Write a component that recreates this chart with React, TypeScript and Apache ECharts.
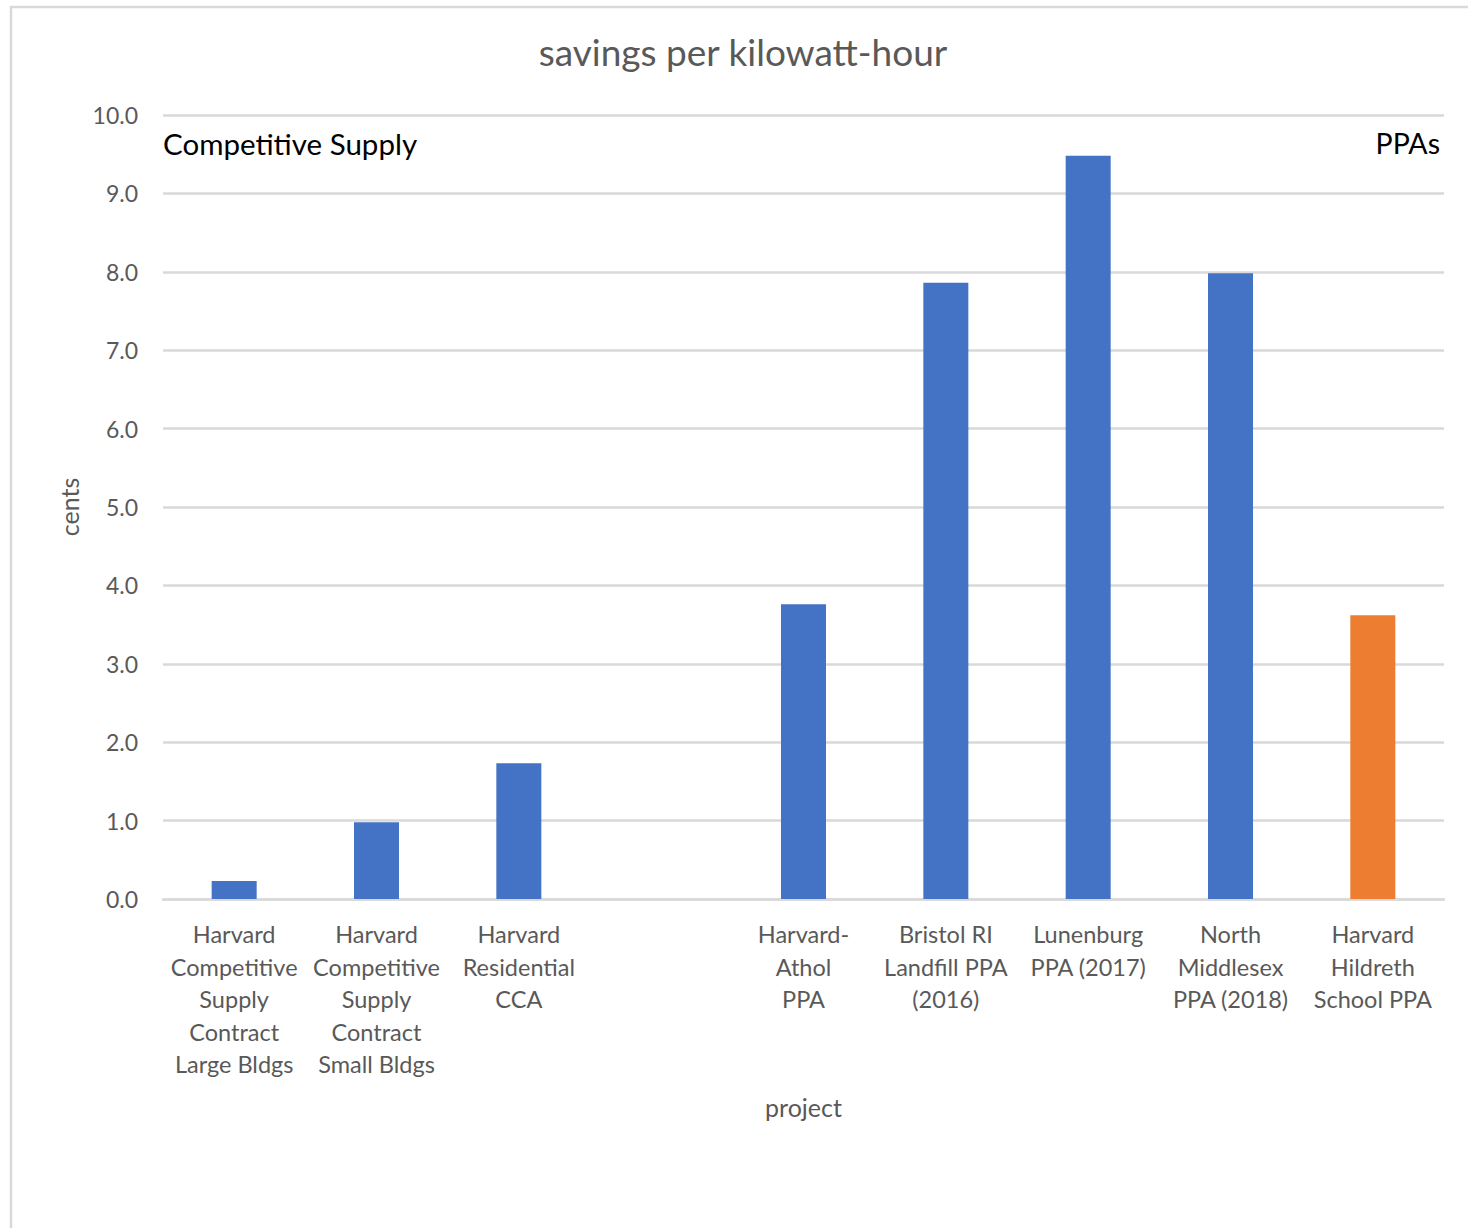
import React, { useEffect, useRef } from "react";
import * as echarts from "echarts";

const categories: string[] = [
  "Harvard\nCompetitive\nSupply\nContract\nLarge Bldgs",
  "Harvard\nCompetitive\nSupply\nContract\nSmall Bldgs",
  "Harvard\nResidential\nCCA",
  "",
  "Harvard-\nAthol\nPPA",
  "Bristol RI\nLandfill PPA\n(2016)",
  "Lunenburg\nPPA (2017)",
  "North\nMiddlesex\nPPA (2018)",
  "Harvard\nHildreth\nSchool PPA",
];
const savings: (number | null)[] = [0.23, 0.98, 1.73, null, 3.76, 7.86, 9.48, 7.98, 3.62];
const highlighted: boolean[] = [false, false, false, false, false, false, false, false, true];

const FONT = "Lato, 'Noto Sans', sans-serif";

export default function App() {
  const ref = useRef<HTMLDivElement>(null);
  useEffect(() => {
    if (!ref.current) return;
    const chart = echarts.init(ref.current, undefined, { renderer: "svg" });
    chart.setOption({
      animation: false,
      backgroundColor: "#ffffff",
      grid: { left: 163, right: 24, top: 115, bottom: 329, containLabel: false },
      xAxis: {
        type: "category",
        data: categories,
        name: "project",
        nameLocation: "middle",
        nameGap: 195,
        nameTextStyle: { fontFamily: FONT, fontSize: 25, color: "#595959" },
        axisLine: { show: true, lineStyle: { color: "#d9d9d9", width: 2.5 } },
        axisTick: { show: false },
        axisLabel: {
          interval: 0,
          margin: 19,
          fontFamily: FONT,
          fontSize: 23.5,
          lineHeight: 32.5,
          color: "#595959",
        },
      },
      yAxis: {
        type: "value",
        min: 0,
        max: 10,
        interval: 1,
        name: "cents",
        nameLocation: "middle",
        nameRotate: 90,
        nameGap: 82,
        nameTextStyle: { fontFamily: FONT, fontSize: 25, color: "#595959" },
        axisLine: { show: false },
        axisTick: { show: false },
        axisLabel: {
          margin: 25,
          fontFamily: FONT,
          fontSize: 23,
          color: "#595959",
          formatter: (v: number) => v.toFixed(1),
        },
        splitLine: { lineStyle: { color: "#d9d9d9", width: 2.5 } },
      },
      series: [
        {
          type: "bar",
          barWidth: 45,
          data: savings.map((v, i) => ({
            value: v,
            itemStyle: { color: highlighted[i] ? "#ED7D31" : "#4472C4" },
          })),
        },
      ],
      graphic: [
        {
          type: "rect",
          shape: { x: 11, y: 7, width: 1600, height: 1400 },
          style: { fill: "none", stroke: "#d9d9d9", lineWidth: 2.5 },
          silent: true,
        },
        {
          type: "text",
          x: 743,
          y: 51,
          style: {
            text: "savings per kilowatt-hour",
            fontFamily: FONT,
            fontSize: 37,
            fill: "#595959",
            align: "center",
            verticalAlign: "middle",
          },
        },
        {
          type: "text",
          x: 163,
          y: 143,
          style: {
            text: "Competitive Supply",
            fontFamily: FONT,
            fontSize: 29.5,
            fill: "#000000",
            align: "left",
            verticalAlign: "middle",
          },
        },
        {
          type: "text",
          x: 1440,
          y: 143,
          style: {
            text: "PPAs",
            fontFamily: FONT,
            fontSize: 28.5,
            fill: "#000000",
            align: "right",
            verticalAlign: "middle",
          },
        },
      ],
    });
    return () => chart.dispose();
  }, []);
  return (
    <div
      ref={ref}
      style={{ position: "absolute", left: 0, top: 0, width: 1468, height: 1228 }}
    />
  );
}
